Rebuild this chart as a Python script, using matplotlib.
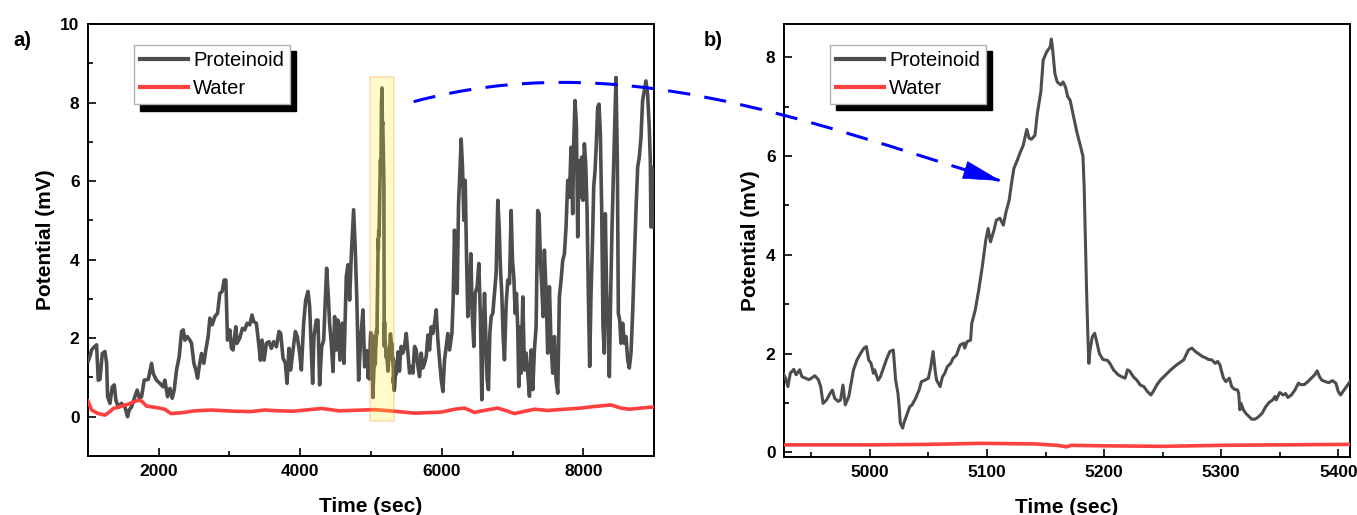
import numpy as np
import matplotlib
matplotlib.use("Agg")
import matplotlib.pyplot as plt
from matplotlib.path import Path
from matplotlib.patches import PathPatch, Polygon, Rectangle
from matplotlib.ticker import MultipleLocator

plt.rcParams['font.family'] = ['Liberation Sans', 'DejaVu Sans']

# ---- panel a: proteinoid trace before the zoomed window
prot_a_t1 = [1000, 1030, 1052, 1090, 1122, 1146, 1170, 1203, 1240, 1264, 1278, 1311, 1344, 1372,
             1395, 1428, 1475, 1522, 1560, 1583, 1616, 1663, 1696, 1725, 1758, 1795, 1852, 1899,
             1922, 1969, 2016, 2063, 2087, 2125, 2158, 2191, 2219, 2252, 2290, 2323, 2346, 2370,
             2403, 2440, 2464, 2497, 2525, 2549, 2572, 2605, 2638, 2666, 2699, 2723, 2756, 2793,
             2831, 2864, 2897, 2925, 2949, 2972, 3005, 3028, 3051, 3089, 3107, 3145, 3183, 3216,
             3249, 3286, 3319, 3343, 3380, 3418, 3437, 3460, 3489, 3522, 3559, 3592, 3625, 3663,
             3700, 3724, 3757, 3790, 3813, 3841, 3865, 3898, 3931, 3959, 3992, 4016, 4048, 4077,
             4110, 4133, 4157, 4175, 4194, 4227, 4251, 4274, 4303, 4331, 4354, 4373, 4397, 4415,
             4439, 4463, 4486, 4510, 4533, 4561, 4590, 4618, 4651, 4674, 4698, 4721, 4754, 4778,
             4801, 4825, 4853, 4886, 4910]
prot_a_v1 = [1.40, 1.55, 1.70, 1.78, 1.83, 0.93, 0.95, 1.61, 1.66, 1.36, 0.51, 0.34, 0.76, 0.81,
             0.42, 0.25, 0.34, 0.25, 0.00, 0.17, 0.25, 0.51, 0.68, 0.47, 0.51, 0.93, 0.95, 1.36,
             1.10, 0.93, 0.85, 0.76, 0.93, 0.51, 0.72, 0.47, 0.68, 1.19, 1.53, 2.17, 2.21, 1.95,
             2.04, 1.95, 1.87, 1.36, 1.19, 0.98, 1.27, 1.61, 1.36, 1.70, 2.04, 2.51, 2.34, 2.55,
             2.63, 3.14, 3.19, 3.48, 3.48, 1.95, 2.21, 1.74, 1.70, 2.29, 1.87, 2.00, 2.25, 2.21,
             2.38, 2.34, 2.59, 2.42, 2.38, 1.78, 1.44, 1.95, 1.44, 1.87, 1.91, 1.74, 1.91, 1.78,
             2.17, 2.12, 1.49, 1.36, 0.85, 1.74, 1.19, 1.70, 2.17, 2.04, 1.61, 1.19, 2.38, 2.97,
             3.19, 2.80, 1.70, 0.85, 2.04, 2.46, 2.46, 0.81, 1.78, 1.95, 2.97, 3.78, 3.06, 2.38,
             1.87, 1.15, 2.55, 1.70, 2.46, 1.44, 2.38, 1.36, 3.57, 3.87, 2.97, 4.08, 5.27, 4.25,
             2.89, 0.93, 1.95, 2.72, 1.27]

# ---- panel b: zoomed window (also part of panel a)
zoom_t = [4926, 4928, 4930, 4932, 4935, 4937, 4940, 4942, 4945, 4948, 4950, 4953, 4956, 4958,
          4960, 4963, 4966, 4968, 4970, 4973, 4975, 4977, 4979, 4982, 4984, 4986, 4989, 4992,
          4995, 4997, 4999, 5001, 5003, 5004, 5007, 5009, 5012, 5014, 5017, 5020, 5022, 5024,
          5025, 5026, 5028, 5029, 5032, 5034, 5036, 5039, 5042, 5044, 5047, 5050, 5052, 5054,
          5056, 5057, 5060, 5062, 5064, 5066, 5069, 5071, 5074, 5077, 5080, 5081, 5083, 5086,
          5087, 5090, 5093, 5096, 5099, 5101, 5103, 5106, 5108, 5111, 5114, 5116, 5119, 5121,
          5123, 5126, 5128, 5131, 5134, 5136, 5138, 5141, 5143, 5146, 5148, 5151, 5154, 5155,
          5156, 5158, 5160, 5163, 5165, 5167, 5169, 5171, 5174, 5177, 5180, 5182, 5183, 5184,
          5185, 5186, 5187, 5188, 5190, 5192, 5194, 5196, 5199, 5203, 5205, 5208, 5212, 5215,
          5218, 5220, 5222, 5225, 5228, 5231, 5234, 5237, 5240, 5242, 5245, 5248, 5251, 5254,
          5257, 5260, 5262, 5265, 5268, 5270, 5272, 5275, 5278, 5281, 5284, 5287, 5289, 5292,
          5295, 5297, 5299, 5300, 5302, 5304, 5307, 5309, 5311, 5314, 5315, 5316, 5317, 5319,
          5321, 5324, 5326, 5329, 5332, 5335, 5338, 5341, 5344, 5346, 5347, 5350, 5353, 5355,
          5357, 5360, 5363, 5366, 5368, 5371, 5374, 5377, 5380, 5382, 5384, 5386, 5389, 5392,
          5395, 5398, 5400, 5402, 5405, 5408, 5410]
zoom_prot = [1.60, 1.50, 1.33, 1.60, 1.68, 1.57, 1.67, 1.53, 1.50, 1.47, 1.50, 1.55, 1.47, 1.33,
             0.99, 1.06, 1.19, 1.26, 1.09, 1.03, 1.06, 1.36, 0.96, 1.13, 1.40, 1.67, 1.87, 2.00,
             2.11, 2.14, 1.87, 1.80, 1.60, 1.67, 1.46, 1.53, 1.73, 1.87, 2.04, 2.07, 1.46, 1.19,
             0.92, 0.59, 0.49, 0.59, 0.79, 0.92, 0.96, 1.09, 1.26, 1.43, 1.46, 1.50, 1.73, 2.04,
             1.60, 1.46, 1.33, 1.53, 1.60, 1.73, 1.80, 1.90, 1.97, 2.17, 2.21, 2.11, 2.24, 2.27,
             2.61, 2.88, 3.29, 3.76, 4.30, 4.53, 4.26, 4.50, 4.70, 4.74, 4.60, 4.84, 5.11, 5.45,
             5.75, 5.92, 6.05, 6.22, 6.54, 6.36, 6.34, 6.42, 6.86, 7.30, 7.94, 8.11, 8.21, 8.37,
             8.18, 7.67, 7.50, 7.44, 7.50, 7.40, 7.20, 7.13, 6.79, 6.46, 6.19, 5.99, 5.38, 4.37,
             3.35, 2.48, 1.80, 2.07, 2.34, 2.41, 2.21, 2.00, 1.88, 1.86, 1.80, 1.67, 1.57, 1.53,
             1.50, 1.67, 1.64, 1.53, 1.46, 1.36, 1.33, 1.23, 1.16, 1.23, 1.36, 1.46, 1.53, 1.60,
             1.67, 1.73, 1.77, 1.82, 1.87, 1.97, 2.07, 2.11, 2.04, 1.99, 1.94, 1.91, 1.88, 1.87,
             1.80, 1.84, 1.77, 1.67, 1.50, 1.43, 1.50, 1.33, 1.28, 1.26, 1.19, 0.86, 0.99, 0.86,
             0.79, 0.72, 0.67, 0.67, 0.72, 0.79, 0.92, 1.01, 1.06, 1.13, 1.06, 1.21, 1.16, 1.19,
             1.11, 1.16, 1.26, 1.40, 1.37, 1.37, 1.43, 1.50, 1.57, 1.65, 1.53, 1.46, 1.43, 1.41,
             1.45, 1.40, 1.23, 1.16, 1.26, 1.36, 1.43]

# ---- panel a: proteinoid trace after the zoomed window
prot_a_t2 = [5427, 5451, 5474, 5498, 5521, 5545, 5569, 5592, 5616, 5639, 5663, 5686, 5710, 5733,
             5757, 5780, 5804, 5827, 5851, 5874, 5898, 5921, 5945, 5968, 5992, 6016, 6039, 6063,
             6086, 6110, 6143, 6161, 6180, 6199, 6218, 6237, 6255, 6274, 6293, 6312, 6331, 6350,
             6368, 6392, 6411, 6430, 6453, 6472, 6500, 6524, 6547, 6566, 6585, 6604, 6623, 6641,
             6660, 6679, 6698, 6721, 6745, 6768, 6792, 6811, 6830, 6848, 6867, 6886, 6910, 6933,
             6957, 6980, 6999, 7018, 7037, 7055, 7074, 7088, 7098, 7121, 7145, 7168, 7192, 7215,
             7239, 7262, 7286, 7309, 7333, 7347, 7356, 7375, 7394, 7413, 7432, 7450, 7474, 7497,
             7521, 7545, 7568, 7592, 7615, 7639, 7662, 7686, 7709, 7733, 7756, 7780, 7803, 7827,
             7850, 7864, 7883, 7902, 7921, 7940, 7959, 7977, 7996, 8015, 8034, 8053, 8071, 8090,
             8109, 8128, 8147, 8166, 8184, 8203, 8222, 8241, 8260, 8278, 8297, 8311, 8330, 8349,
             8368, 8387, 8406, 8424, 8443, 8462, 8481, 8495, 8514, 8533, 8556, 8580, 8603, 8627,
             8650, 8674, 8697, 8721, 8744, 8768, 8791, 8815, 8838, 8862, 8885, 8909, 8932, 8947,
             8956, 8970, 8990, 9000]
prot_a_v2 = [1.79, 1.62, 1.79, 2.12, 1.62, 1.11, 1.28, 1.11, 1.79, 1.70, 1.28, 1.02, 1.62, 1.24,
             1.36, 1.53, 2.08, 1.70, 2.29, 2.12, 2.38, 2.72, 1.95, 1.45, 0.94, 0.64, 1.45, 1.79,
             2.12, 1.70, 2.12, 2.97, 4.75, 3.56, 3.14, 5.42, 6.18, 7.07, 6.35, 5.00, 6.02, 4.07,
             2.55, 3.14, 4.15, 2.63, 1.79, 3.14, 3.31, 3.90, 2.46, 0.43, 2.12, 3.14, 2.04, 0.94,
             0.69, 2.12, 2.55, 2.63, 3.14, 3.65, 5.51, 4.83, 3.73, 3.14, 2.04, 1.45, 2.88, 3.48,
             3.39, 5.25, 3.98, 3.56, 2.63, 3.14, 2.21, 0.77, 2.29, 1.11, 3.05, 1.19, 1.62, 1.11,
             0.52, 1.70, 0.69, 1.70, 2.29, 3.98, 5.25, 5.17, 3.98, 3.31, 2.55, 4.24, 3.14, 1.62,
             3.31, 1.79, 1.11, 2.04, 0.94, 0.60, 3.05, 3.48, 3.98, 4.15, 4.83, 6.02, 5.59, 6.86,
             5.17, 6.95, 8.05, 7.45, 4.58, 6.52, 5.59, 6.61, 5.51, 6.95, 6.44, 5.25, 3.14, 1.28,
             3.14, 4.32, 5.85, 6.27, 6.95, 7.88, 7.96, 7.20, 5.25, 2.29, 1.62, 5.17, 3.14, 2.46,
             1.02, 3.14, 4.83, 6.02, 7.37, 8.64, 6.52, 2.63, 2.46, 1.87, 2.38, 1.87, 2.04, 1.45,
             1.24, 1.62, 2.63, 3.98, 5.25, 6.35, 6.61, 7.11, 8.05, 8.30, 8.55, 8.21, 7.37, 6.52,
             4.83, 6.35, 5.68, 4.83]

# ---- water traces
water_a_t = [1000, 1052, 1146, 1240, 1311, 1358, 1428, 1569, 1710, 1758, 1828, 1946, 2087, 2172,
             2323, 2511, 2746, 3061, 3300, 3500, 3700, 3900, 4300, 4550, 4880, 5051, 5333, 5615,
             5900, 6000, 6180, 6320, 6463, 6600, 6792, 6933, 7027, 7100, 7309, 7500, 7733, 7966,
             8156, 8391, 8533, 8650, 8815, 9000]
water_a_v = [0.40, 0.17, 0.08, 0.04, 0.13, 0.21, 0.24, 0.32, 0.42, 0.40, 0.27, 0.24, 0.19, 0.08,
             0.10, 0.15, 0.17, 0.14, 0.13, 0.17, 0.15, 0.14, 0.21, 0.15, 0.17, 0.18, 0.14, 0.09,
             0.11, 0.12, 0.19, 0.22, 0.11, 0.16, 0.22, 0.14, 0.08, 0.11, 0.19, 0.16, 0.19, 0.22,
             0.26, 0.30, 0.22, 0.19, 0.22, 0.25]
water_b_t = [4927, 5000, 5050, 5094, 5140, 5160, 5168, 5172, 5200, 5250, 5300, 5350, 5410]
water_b_v = [0.15, 0.15, 0.16, 0.18, 0.17, 0.14, 0.11, 0.14, 0.13, 0.12, 0.14, 0.15, 0.16]

# highlighted window in panel a
win_t = (4980, 5320)
win_v = (-0.1, 8.65)

gray = '#4d4d4d'
red = '#ff4040'
W, H = 1357, 515

fig = plt.figure(figsize=(W / 100, H / 100), dpi=100)
ax1 = fig.add_axes([0.0648, 0.1146, 0.4172, 0.8388])
ax2 = fig.add_axes([0.5777, 0.1132, 0.4171, 0.8408])

prot_a_t = prot_a_t1 + zoom_t + prot_a_t2
prot_a_v = prot_a_v1 + zoom_prot + prot_a_v2

ax1.plot(prot_a_t, prot_a_v, color=gray, lw=2.6, label='Proteinoid', zorder=3)
ax1.plot(water_a_t, water_a_v, color=red, lw=2.6, label='Water', zorder=3)
ax1.add_patch(Rectangle((win_t[0], win_v[0]), win_t[1] - win_t[0], win_v[1] - win_v[0],
                        facecolor='#ffee2a', edgecolor='#ff7a10', lw=1.2, alpha=0.25, zorder=4))
ax1.set_xlim(1000, 9000)
ax1.set_ylim(-1, 10)
ax1.xaxis.set_major_locator(MultipleLocator(2000))
ax1.xaxis.set_minor_locator(MultipleLocator(1000))
ax1.yaxis.set_major_locator(MultipleLocator(2))
ax1.yaxis.set_minor_locator(MultipleLocator(1))

ax2.plot(zoom_t, zoom_prot, color=gray, lw=2.2, label='Proteinoid', zorder=3)
ax2.plot(water_b_t, water_b_v, color=red, lw=2.6, label='Water', zorder=3)
ax2.set_xlim(4926.6, 5410)
ax2.set_ylim(-0.09, 8.68)
ax2.xaxis.set_major_locator(MultipleLocator(100))
ax2.xaxis.set_minor_locator(MultipleLocator(50))
ax2.yaxis.set_major_locator(MultipleLocator(2))
ax2.yaxis.set_minor_locator(MultipleLocator(1))

for ax in (ax1, ax2):
    for s in ax.spines.values():
        s.set_linewidth(1.4)
    ax.tick_params(which='both', direction='in', width=1.2, labelsize=12.5, pad=6)
    ax.tick_params(which='major', length=6)
    ax.tick_params(which='minor', length=3.5)
    for lab in ax.get_xticklabels() + ax.get_yticklabels():
        lab.set_fontweight('bold')
    ax.set_xlabel('Time (sec)', fontsize=15, fontweight='bold', labelpad=13)
    ax.set_ylabel('Potential (mV)', fontsize=15, fontweight='bold', labelpad=4)
    leg = ax.legend(loc='upper left', bbox_to_anchor=(0.081, 0.951), borderaxespad=0,
                    fontsize=14.5, frameon=True, fancybox=False, framealpha=1,
                    edgecolor='#b0b0b0', handlelength=2.4, handletextpad=0.25,
                    labelspacing=0.45, borderpad=0.3,
                    shadow={'ox': 4.5, 'oy': -4.5, 'facecolor': 'black',
                            'edgecolor': 'black', 'alpha': 1})
    leg.get_frame().set_linewidth(1.0)
    for ln in leg.get_lines():
        ln.set_linewidth(3)

fig.text(13 / W, 1 - 40 / H, 'a)', fontsize=14.5, fontweight='bold', va='center', ha='left')
fig.text(704 / W, 1 - 41 / H, 'b)', fontsize=14.5, fontweight='bold', va='center', ha='left')

# dashed connector arrow (figure pixel coordinates, y down)
p0, p1, p2, p3 = (413.6, 101.7), (616.5, 47.3), (798.7, 118.7), (999.5, 180.5)
pts = [(x / W, 1 - y / H) for x, y in (p0, p1, p2, p3)]
curve = Path(pts, [Path.MOVETO, Path.CURVE4, Path.CURVE4, Path.CURVE4])
fig.patches.append(PathPatch(curve, transform=fig.transFigure, fill=False, edgecolor='#0000ff',
                             lw=2.2, linestyle=(0, (7.3, 4.7)), capstyle='butt', zorder=10))
d = np.array(p3) - np.array(p2)
d = d / np.hypot(*d)
n = np.array([-d[1], d[0]])
tip = np.array(p3)
base = tip - 36 * d
head = [tip, base + 8.7 * n, base - 8.7 * n]
head = [(x / W, 1 - y / H) for x, y in head]
fig.patches.append(Polygon(head, closed=True, transform=fig.transFigure, facecolor='#0000ff',
                           edgecolor='#0000ff', lw=0.5, zorder=11))

fig.savefig('out.png', dpi=100)
